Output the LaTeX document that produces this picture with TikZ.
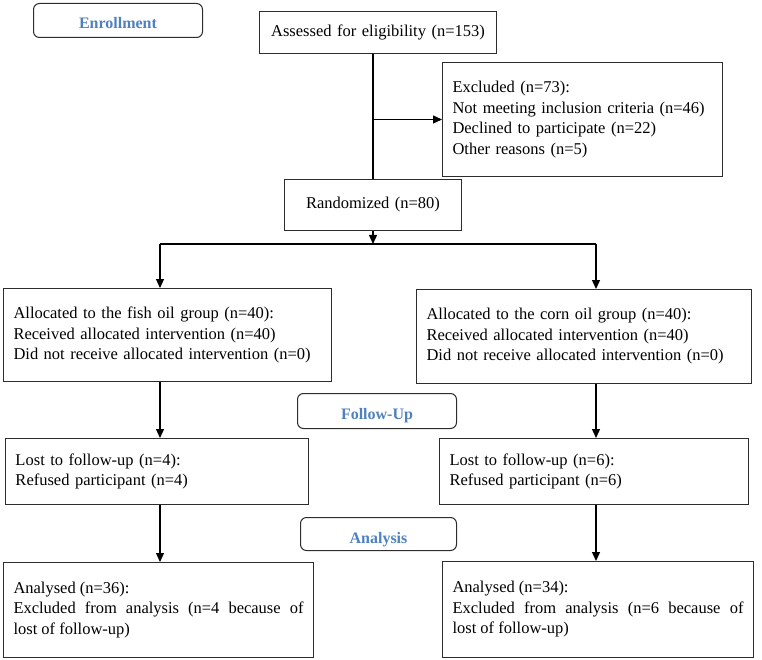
\documentclass[tikz,border=0pt]{standalone}
\usepackage{fontspec}
\setmainfont{Liberation Serif}
\usetikzlibrary{arrows.meta}
\definecolor{labelblue}{RGB}{79,129,189}
\definecolor{boxline}{RGB}{45,45,45}

\tikzset{
  stage/.style={draw=boxline, rounded corners=6pt, line width=1pt, anchor=north west,
    inner sep=0pt, text depth=0pt, text=labelblue, font=\fontsize{16}{19}\selectfont\bfseries},
  infobox/.style={draw=boxline, line width=1pt, anchor=north west, inner xsep=10pt,
    inner ysep=0pt, font=\fontsize{16.5}{20.5}\selectfont},
  flow/.style={line width=1.3pt, -{Triangle[length=9pt,width=8pt]}}
}

\begin{document}
\begin{tikzpicture}[x=1pt, y=-1pt]
\useasboundingbox (0,0) rectangle (762,660);

% stage labels
\node[stage, minimum width=169pt, minimum height=34pt, text height=16pt] (enroll) at (33,3) {Enrollment};
\node[stage, minimum width=159pt, minimum height=35pt, text height=17pt] (follow) at (297,393) {Follow-Up};
\node[stage, minimum width=156pt, minimum height=33pt, text height=19pt] (analysis) at (300,517) {Analysis};

% boxes
\node[infobox, align=center, text width=217pt, minimum height=42pt] (assess) at (259,11) {Assessed for eligibility (n=153)};
\node[infobox, align=left, text width=260pt, minimum height=114pt] (excl) at (442,62)
  {Excluded (n=73):\\ Not meeting inclusion criteria (n=46)\\ Declined to participate (n=22)\\ Other reasons (n=5)};
\node[infobox, align=center, text width=157pt, minimum height=51pt] (rand) at (284,179) {Randomized (n=80)};

\node[infobox, align=left, text width=308pt, minimum height=93pt] (fishalloc) at (3,288)
  {Allocated to the fish oil group (n=40):\\ Received allocated intervention (n=40)\\ Did not receive allocated intervention (n=0)};
\node[infobox, align=left, text width=315pt, minimum height=94pt] (cornalloc) at (416,289)
  {Allocated to the corn oil group (n=40):\\ Received allocated intervention (n=40)\\ Did not receive allocated intervention (n=0)};

\node[infobox, align=left, text width=283pt, minimum height=66pt] (fishlost) at (5,438)
  {Lost to follow-up (n=4):\\ Refused participant (n=4)};
\node[infobox, align=left, text width=289pt, minimum height=66pt] (cornlost) at (439,438)
  {Lost to follow-up (n=6):\\ Refused participant (n=6)};

\node[infobox, align=justify, text width=290pt, minimum height=95pt] (fishana) at (3,562)
  {Analysed (n=36):\\ Excluded from analysis (n=4 because of\linebreak lost of follow-up)};
\node[infobox, align=justify, text width=291pt, minimum height=96pt] (cornana) at (442,561)
  {Analysed (n=34):\\ Excluded from analysis (n=6 because of\linebreak lost of follow-up)};

% connectors
\coordinate (fishcol) at (160,244);
\coordinate (corncol) at (596,244);
\draw[line width=1.3pt] (rand.north |- assess.south) -- (rand.north);
\draw[flow] (excl.west -| rand.north) -- (excl.west);
\draw[flow] (rand.south) -- (rand.south |- fishcol);
\draw[line width=1.8pt] (fishcol) -- (corncol);
\draw[flow] (fishcol) -- (fishcol |- fishalloc.north);
\draw[flow] (corncol) -- (corncol |- cornalloc.north);
\draw[flow] (fishalloc.south -| fishcol) -- (fishlost.north -| fishcol);
\draw[flow] (cornalloc.south -| corncol) -- (cornlost.north -| corncol);
\draw[flow] (fishlost.south -| fishcol) -- (fishana.north -| fishcol);
\draw[flow] (cornlost.south -| corncol) -- (cornana.north -| corncol);
\end{tikzpicture}
\end{document}
